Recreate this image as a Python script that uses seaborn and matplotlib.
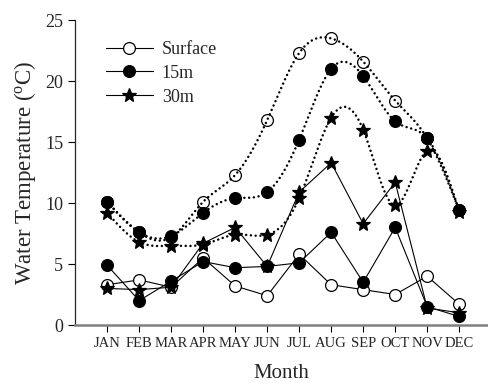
import numpy as np
import pandas as pd
import matplotlib
matplotlib.use("Agg")
import matplotlib.pyplot as plt
import seaborn as sns
from matplotlib.lines import Line2D

months = ["JAN", "FEB", "MAR", "APR", "MAY", "JUN", "JUL", "AUG", "SEP", "OCT", "NOV", "DEC"]

# dotted (smoothed) series
surface_a = [10.1, 7.6, 7.2, 10.1, 12.3, 16.8, 22.3, 23.5, 21.6, 18.4, 15.3, 9.4]
m15_a = [10.1, 7.6, 7.3, 9.2, 10.4, 10.9, 15.2, 21.0, 20.4, 16.7, 15.3, 9.4]
m30_a = [9.2, 6.8, 6.5, 6.6, 7.4, 7.4, 10.4, 17.0, 16.0, 9.8, 14.3, 9.3]

# solid series
surface_b = [3.3, 3.7, 3.1, 5.5, 3.2, 2.4, 5.8, 3.3, 2.9, 2.5, 4.0, 1.7]
m15_b = [4.9, 2.0, 3.6, 5.2, 4.7, 4.8, 5.1, 7.6, 3.5, 8.0, 1.5, 0.7]
m30_b = [3.0, 2.9, 3.1, 6.7, 8.0, 4.8, 10.9, 13.3, 8.3, 11.7, 1.4, 1.0]


def spline(y, n=40):
    # natural cubic spline through the monthly points, unit spacing
    y = np.asarray(y, float)
    k = len(y)
    A = np.zeros((k, k))
    b = np.zeros(k)
    A[0, 0] = A[-1, -1] = 1
    for i in range(1, k - 1):
        A[i, i - 1:i + 2] = [1, 4, 1]
        b[i] = 6 * (y[i + 1] - 2 * y[i] + y[i - 1])
    M = np.linalg.solve(A, b)
    xs, ys = [], []
    for i in range(k - 1):
        t = np.linspace(0, 1, n, endpoint=False)
        s = (M[i] * (1 - t) ** 3 / 6 + M[i + 1] * t ** 3 / 6
             + (y[i] - M[i] / 6) * (1 - t) + (y[i + 1] - M[i + 1] / 6) * t)
        xs.append(i + t)
        ys.append(s)
    xs.append([k - 1])
    ys.append([y[-1]])
    return np.concatenate(xs), np.concatenate(ys)


sns.set_style("ticks")
plt.rcParams["font.family"] = ["Liberation Serif", "DejaVu Serif"]
plt.rcParams["mathtext.fontset"] = "custom"
plt.rcParams["mathtext.rm"] = "Liberation Serif"

fig = plt.figure(figsize=(4.88, 3.86), dpi=100)
ax = fig.add_axes([0.154, 0.158, 0.846, 0.79])

x = np.arange(len(months))
dot_kw = dict(color="black", lw=1.8, dashes=(0.01, 1.9), dash_capstyle="round")

styles = [
    ("Surface", surface_a, surface_b, "o", "white", 8.5),
    ("15m", m15_a, m15_b, "o", "black", 8.5),
    ("30m", m30_a, m30_b, "*", "black", 10),
]

for name, ya, yb, mk, fc, ms in styles:
    df = pd.DataFrame({"x": x, "y": yb})
    sns.lineplot(data=df, x="x", y="y", ax=ax, color="black", lw=0.8,
                 marker=mk, markersize=ms, markerfacecolor=fc,
                 markeredgecolor="black", markeredgewidth=0.9, zorder=3)
    # upper points: open circles are hollow so the dotted curve shows through
    ax.plot(x, ya, ls="none", marker=mk, ms=ms,
            mfc="none" if fc == "white" else fc, mec="black",
            mew=0.9, zorder=4)

for name, ya, yb, mk, fc, ms in styles:
    sx, sy = spline(ya)
    ax.plot(sx, sy, **dot_kw, zorder=5 if fc == "white" else 2)

ax.set_xlim(-1, 11.9)
ax.set_ylim(0, 25)
ax.set_xticks(x)
ax.set_xticklabels(months, fontsize=10.5)
ax.set_yticks(range(0, 26, 5))
ax.tick_params(axis="y", labelsize=13, length=5, width=0.8, color="black")
ax.tick_params(axis="x", length=5, width=0.8, color="black")
ax.set_xlabel("Month", fontsize=15, labelpad=10)
ax.set_ylabel(r"Water Temperature ($\mathregular{^o}$C)", fontsize=16.5, labelpad=5)
sns.despine(ax=ax)
ax.spines["left"].set_linewidth(0.9)
ax.spines["bottom"].set_color("#808080")
ax.spines["bottom"].set_linewidth(1.8)

handles = [Line2D([], [], color="black", lw=0.8, marker=mk, ms=ms, mfc=fc,
                  mec="black", mew=0.9) for _, _, _, mk, fc, ms in styles]
ax.legend(handles, [s[0] for s in styles], loc="upper left",
          bbox_to_anchor=(0.035, 0.985), frameon=False, fontsize=13,
          handlelength=2.6, labelspacing=0.38, handletextpad=0.5)

fig.savefig("out.png", dpi=100)
